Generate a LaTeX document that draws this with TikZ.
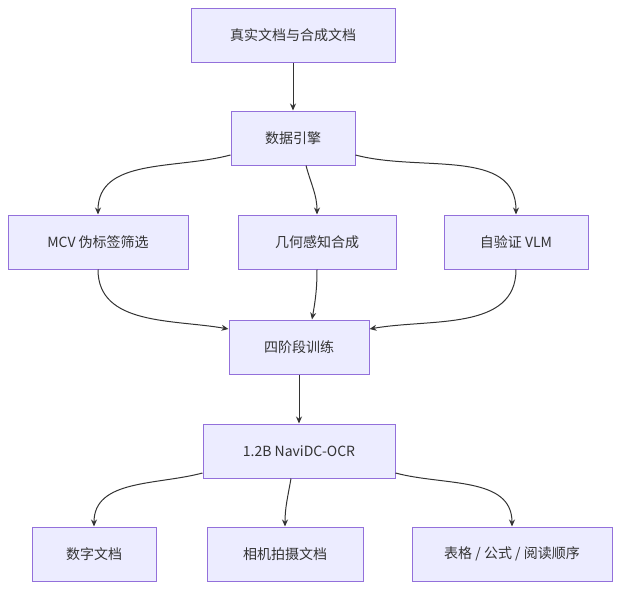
\documentclass[tikz,border=0pt]{standalone}
\usepackage{fontspec}
\setmainfont{Noto Sans CJK SC}
\usetikzlibrary{arrows.meta}
\definecolor{boxfill}{HTML}{ECECFF}
\definecolor{boxline}{HTML}{9370DB}
\definecolor{linkcol}{HTML}{333333}
\tikzset{
  box/.style={draw=boxline,fill=boxfill,line width=1pt,minimum height=54pt,
    inner sep=0pt,font=\fontsize{14}{16}\selectfont,text=linkcol},
  link/.style={draw=linkcol,line width=1pt,-{Stealth[length=7pt,width=6pt]}}
}
\begin{document}
\begin{tikzpicture}[x=1pt,y=-1pt]
\useasboundingbox (0,0) rectangle (635,590);
% nodes
\node[box,minimum width=204pt] (real) at (293,35) {真实文档与合成文档};
\node[box,minimum width=124pt] (engine) at (293,138) {数据引擎};
\node[box,minimum width=180pt] (mcv) at (98,242) {MCV 伪标签筛选};
\node[box,minimum width=158pt] (geo) at (317,242) {几何感知合成};
\node[box,minimum width=144pt] (vlm) at (516,242) {自验证 VLM};
\node[box,minimum width=140pt] (stage) at (299,347) {四阶段训练};
\node[box,minimum width=192pt] (ocr) at (299,451) {1.2B NaviDC-OCR};
\node[box,minimum width=124pt] (digital) at (94,554) {数字文档};
\node[box,minimum width=156pt] (camera) at (285,554) {相机拍摄文档};
\node[box,minimum width=200pt] (table) at (512,554) {表格 / 公式 / 阅读顺序};
% links
\draw[link] (real) -- (engine);
\draw[link] (engine.west|-0,155) to[out=195,in=90] (mcv.north);
\draw[link] (engine.south-|306,0) to[out=-75,in=90] (geo.north-|317,0);
\draw[link] (engine.east|-0,155) to[out=-15,in=90] (vlm.north);
\draw[link] (mcv.south) to[out=-90,in=170] (stage.west|-0,329);
\draw[link] (geo.south) to[out=-90,in=80] (stage.north-|312,0);
\draw[link] (vlm.south) to[out=-90,in=10] (stage.east|-0,329);
\draw[link] (stage) -- (ocr);
\draw[link] (ocr.west|-0,473) to[out=195,in=90] (digital.north);
\draw[link] (ocr.south-|291,0) to[out=-100,in=90] (camera.north);
\draw[link] (ocr.east|-0,473) to[out=-15,in=90] (table.north);
\end{tikzpicture}
\end{document}
